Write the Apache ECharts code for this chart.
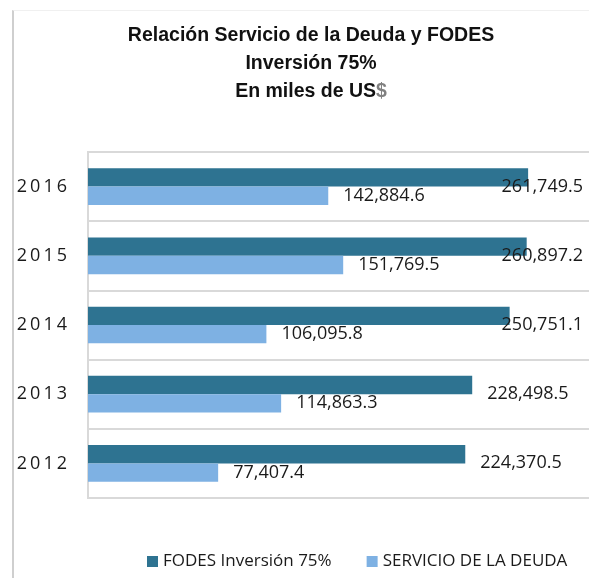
<!DOCTYPE html>
<html>
<head>
<meta charset="utf-8">
<script src="https://cdn.jsdelivr.net/npm/echarts@6/dist/echarts.min.js"></script>
<style>
    html, body { margin: 0; padding: 0; background: #fff; overflow: hidden; }
    #frame {
        position: absolute; left: 12px; top: 10px; width: 600px; height: 600px;
        border-left: 2px solid #cfcfcf; border-top: 1px solid #f0f0f0;
    }
    /* el área del gráfico continúa más allá del borde derecho, como en la imagen */
    #chart { position: absolute; left: 0; top: 0; width: 600px; height: 578px; }
</style>
</head>
<body>
<div id="frame"></div>
<div id="chart"></div>
<script>
// datos del gráfico
const years = ['2012', '2013', '2014', '2015', '2016'];
const fodes = [224370.5, 228498.5, 250751.1, 260897.2, 261749.5];
const deuda = [77407.4, 114863.3, 106095.8, 151769.5, 142884.6];
const seriesNames = ['FODES Inversión 75%', 'SERVICIO DE LA DEUDA'];

const fmt = v => v.toLocaleString('en-US', { minimumFractionDigits: 1, maximumFractionDigits: 1 });

const chart = echarts.init(document.getElementById('chart'));

const labelStyle = {
    show: true,
    position: 'right',
    distance: 15,
    color: '#1a1a1a',
    fontFamily: 'Open Sans',
    fontSize: 18,
    formatter: p => fmt(p.value)
};

chart.setOption({
    animation: false,
    title: {
        text: 'Relación Servicio de la Deuda y FODES\nInversión 75%\nEn miles de US{g|$}',
        left: 306,
        top: 17,
        textAlign: 'center',
        textStyle: {
            fontFamily: 'Liberation Sans',
            fontWeight: 'bold',
            fontSize: 19.5,
            lineHeight: 28,
            color: '#111',
            rich: {
                g: { color: '#808080', fontFamily: 'Liberation Sans', fontWeight: 'bold', fontSize: 19.5, lineHeight: 28 }
            }
        }
    },
    legend: {
        data: seriesNames,
        left: 142,
        top: 548,
        width: 440,
        itemWidth: 11,
        itemHeight: 11,
        itemGap: 35,
        icon: 'rect',
        textStyle: { fontFamily: 'Open Sans', fontSize: 17, color: '#1a1a1a' }
    },
    grid: {
        left: 88, right: 0, top: 152, bottom: 80,
        show: true,
        borderColor: '#d9d9d9',
        borderWidth: 2,
        backgroundColor: 'transparent'
    },
    // borde inferior del área de trazado
    graphic: [{
        type: 'line',
        z: 10,
        shape: { x1: 88, y1: 498, x2: 600, y2: 498 },
        style: { stroke: '#d9d9d9', lineWidth: 2 }
    }],
    xAxis: {
        type: 'value',
        min: 0,
        max: 304500,
        show: false
    },
    yAxis: {
        type: 'category',
        data: years,
        axisLine: { show: true, lineStyle: { color: '#d9d9d9', width: 2 } },
        axisTick: { show: false },
        splitLine: { show: true, lineStyle: { color: '#d9d9d9', width: 2 } },
        axisLabel: {
            margin: 21,
            fontFamily: 'Open Sans',
            fontSize: 18,
            color: '#1a1a1a',
            formatter: v => v.split('').join('\u2006')
        }
    },
    series: [
        {
            name: seriesNames[0],
            type: 'bar',
            data: fodes,
            barGap: '0%',
            barCategoryGap: '47%',
            itemStyle: { color: '#2E7391' },
            label: labelStyle,
            labelLayout: p => {
                const r = p.labelRect;
                return { x: Math.min(r.x, 583 - r.width) };
            }
        },
        {
            name: seriesNames[1],
            type: 'bar',
            data: deuda,
            barGap: '0%',
            barCategoryGap: '47%',
            itemStyle: { color: '#7EB1E3' },
            label: labelStyle
        }
    ]
});
</script>
</body>
</html>
